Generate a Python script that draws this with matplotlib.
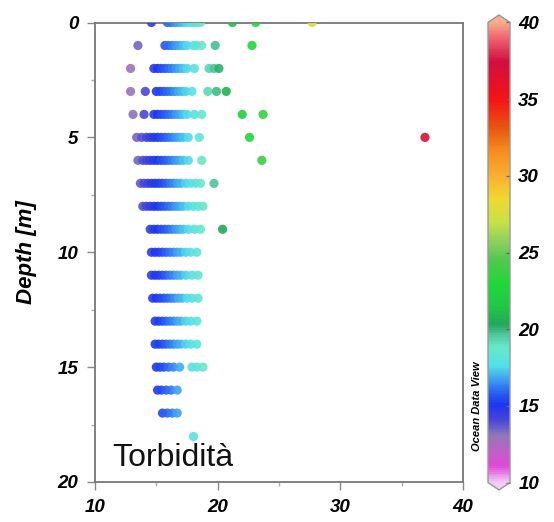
import matplotlib
matplotlib.use("Agg")
import matplotlib.pyplot as plt
from matplotlib.colors import LinearSegmentedColormap
from matplotlib.ticker import MultipleLocator

plt.rcParams["font.family"] = ["Liberation Sans", "DejaVu Sans"]

# turbidity readings per depth level (one row of dots per metre)
depths = list(range(19))
turb_0m = [14.6, 15.9, 16.2, 16.5, 16.8, 17.1, 17.4, 17.7, 18.0, 18.3, 18.6, 21.2, 23.1, 27.7]
turb_1m = [13.5, 15.7, 16.0, 16.3, 16.6, 16.9, 17.2, 17.5, 18.0, 18.3, 18.7, 19.8, 22.8]
turb_2m = [12.9, 14.8, 15.1, 15.4, 15.7, 16.0, 16.3, 16.6, 16.9, 17.2, 17.5, 18.1, 19.3, 19.7, 20.1]
turb_3m = [12.9, 14.1, 15.0, 15.3, 15.6, 15.9, 16.2, 16.5, 16.8, 17.1, 17.4, 17.9, 19.2, 19.9, 20.7]
turb_4m = [13.1, 14.0, 14.8, 15.1, 15.4, 15.7, 16.0, 16.3, 16.6, 16.9, 17.2, 17.5, 18.1, 18.7, 22.0, 23.7]
turb_5m = [13.4, 13.8, 14.2, 14.5, 14.8, 15.1, 15.4, 15.7, 16.0, 16.3, 16.6, 16.9, 17.2, 17.6, 18.5, 22.6, 36.9]
turb_6m = [13.5, 13.9, 14.2, 14.5, 14.8, 15.1, 15.4, 15.7, 16.0, 16.3, 16.6, 16.9, 17.2, 17.6, 18.7, 23.6]
turb_7m = [13.7, 14.0, 14.3, 14.6, 14.9, 15.2, 15.5, 15.8, 16.1, 16.4, 16.7, 17.0, 17.4, 17.8, 18.2, 18.6, 19.7]
turb_8m = [13.9, 14.2, 14.5, 14.8, 15.1, 15.4, 15.7, 16.0, 16.3, 16.6, 16.9, 17.2, 17.6, 18.0, 18.4, 18.8]
turb_9m = [14.5, 14.8, 15.1, 15.4, 15.7, 16.0, 16.3, 16.6, 16.9, 17.2, 17.6, 18.1, 18.6, 20.4]
turb_10m = [14.6, 14.9, 15.2, 15.5, 15.8, 16.1, 16.4, 16.7, 17.0, 17.4, 17.8, 18.3]
turb_11m = [14.6, 14.9, 15.2, 15.5, 15.8, 16.1, 16.4, 16.7, 17.0, 17.4, 17.9, 18.4]
turb_12m = [14.7, 15.0, 15.3, 15.6, 15.9, 16.2, 16.5, 16.8, 17.1, 17.5, 17.9, 18.4]
turb_13m = [14.9, 15.2, 15.5, 15.8, 16.1, 16.4, 16.7, 17.0, 17.4, 17.8, 18.3]
turb_14m = [14.9, 15.2, 15.5, 15.8, 16.1, 16.4, 16.7, 17.0, 17.4, 17.8, 18.3]
turb_15m = [15.0, 15.3, 15.6, 16.0, 16.4, 16.9, 17.9, 18.3, 18.8]
turb_16m = [15.1, 15.4, 15.8, 16.2, 16.7]
turb_17m = [15.5, 15.9, 16.3, 16.7]
turb_18m = [18.0]

profiles = [turb_0m, turb_1m, turb_2m, turb_3m, turb_4m, turb_5m, turb_6m,
            turb_7m, turb_8m, turb_9m, turb_10m, turb_11m, turb_12m,
            turb_13m, turb_14m, turb_15m, turb_16m, turb_17m, turb_18m]

# ODV-style palette
cbar_levels = [10, 11, 12, 13, 14, 15, 16, 16.8, 17.6, 18.8, 19.6, 20.3, 21.5, 23,
               24.5, 25.8, 27, 28.5, 30, 31.5, 33, 35, 36.5, 37.5, 39, 40]
cbar_colors = ["#f2c8f2", "#e048d8", "#c060c8", "#9078b8", "#4848d8", "#1c34f0",
               "#2c6cf0", "#40a8f0", "#50e0e8", "#68e8c8", "#50c8a0", "#20a858",
               "#20c848", "#20d838", "#50c850", "#90d060", "#c8e048", "#f0d830",
               "#f8b030", "#f89020", "#e85c10", "#f41414", "#e01030", "#d01040",
               "#f06070", "#f8a888"]
cbar_ticks = [10, 15, 20, 25, 30, 35, 40]

vmin, vmax = 10, 40
odv = LinearSegmentedColormap.from_list(
    "odv", [((v - vmin) / (vmax - vmin), c) for v, c in zip(cbar_levels, cbar_colors)])

fig = plt.figure(figsize=(5.54, 5.22), dpi=100)
ax = fig.add_axes([95 / 554, 40 / 522, 368 / 554, 459.5 / 522])

for d, vals in zip(depths, profiles):
    sc = ax.scatter(vals, [d] * len(vals), c=vals, cmap=odv, vmin=vmin, vmax=vmax,
                    s=44, linewidths=0, alpha=0.9, zorder=3)

ax.set_xlim(10, 40)
ax.set_ylim(20, 0)
ax.xaxis.set_major_locator(MultipleLocator(10))
ax.xaxis.set_minor_locator(MultipleLocator(5))
ax.yaxis.set_major_locator(MultipleLocator(5))
ax.yaxis.set_minor_locator(MultipleLocator(2.5))
ax.tick_params(which="major", direction="out", length=6, width=1, color="#888888",
               labelsize=13.5, pad=6)
ax.tick_params(which="minor", direction="out", length=3, width=1, color="#aaaaaa")
for lab in ax.get_xticklabels() + ax.get_yticklabels():
    lab.set_fontweight("bold")
    lab.set_fontstyle("italic")
for sp in ax.spines.values():
    sp.set_color("#777777")
    sp.set_linewidth(1.3)

ax.set_ylabel("Depth [m]", fontsize=16, fontweight="bold", fontstyle="italic", labelpad=15)
ax.text(11.4, 19.3, "Torbidità", fontsize=23, ha="left", va="baseline", color="#111111")

cax = fig.add_axes([488 / 554, 32 / 522, 22 / 554, 475 / 522])
cb = fig.colorbar(sc, cax=cax, extend="both", extendfrac=7.5 / 460)
cb.solids.set_alpha(1)
cb.set_ticks(cbar_ticks)
cb.outline.set_edgecolor("#999999")
cb.outline.set_linewidth(1)
cax.tick_params(direction="in", length=3, width=1, color="#666666", labelsize=13.5, pad=6)
cax.minorticks_off()
for lab in cax.get_yticklabels():
    lab.set_fontweight("bold")
    lab.set_fontstyle("italic")

fig.text(477 / 554, 1 - 406 / 522, "Ocean Data View", rotation=90, fontsize=8,
         fontweight="bold", fontstyle="italic", ha="center", va="center")

fig.savefig("out.png", dpi=100)
